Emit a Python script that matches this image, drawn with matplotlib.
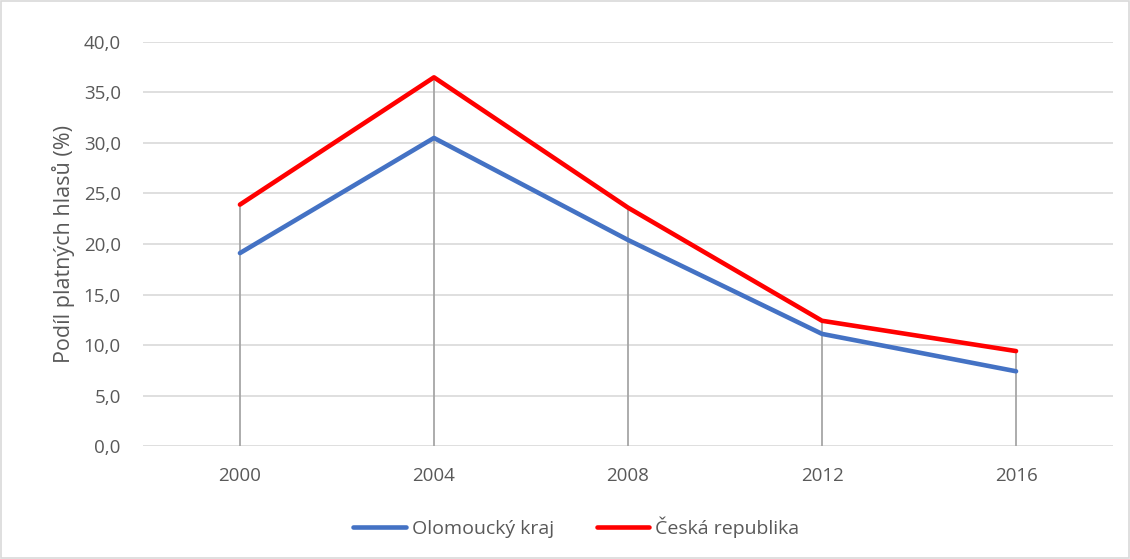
import matplotlib
matplotlib.use("Agg")
from matplotlib import pyplot as plt
from matplotlib.patches import Rectangle
import numpy as np

years = ["2000", "2004", "2008", "2012", "2016"]
olomoucky = [19.1, 30.5, 20.4, 11.1, 7.4]
cr = [23.9, 36.5, 23.6, 12.4, 9.4]
yticks = [0, 5, 10, 15, 20, 25, 30, 35, 40]

plt.rcParams['font.family'] = ['Open Sans', 'DejaVu Sans']
txt = "#595959"

fig = plt.figure(figsize=(11.3, 5.59), dpi=100)
ax = fig.add_axes([0.1265, 0.2021, 0.8585, 0.7228])

x = np.arange(len(years))

# drop lines from axis up to the higher series
tops = np.maximum(olomoucky, cr)
ax.vlines(x, 0, tops, color="#a6a6a6", lw=1.3, zorder=2)

ax.plot(x, olomoucky, color="#4472C4", lw=3.3, solid_capstyle="round", label="Olomoucký kraj", zorder=3)
ax.plot(x, cr, color="#FF0000", lw=3.3, solid_capstyle="round", label="Česká republika", zorder=3)

ax.set_xlim(-0.5, len(years) - 0.5)
ax.set_ylim(0, 40)
ax.set_yticks(yticks)
ax.set_yticklabels([f"{v:.1f}".replace(".", ",") for v in yticks])
ax.set_xticks(x)
ax.set_xticklabels(years)
ax.grid(axis="y", color="#d9d9d9", lw=1.2, zorder=0)
ax.set_axisbelow(True)
for s in ax.spines.values():
    s.set_visible(False)
ax.tick_params(axis="both", length=0, labelsize=13.5, colors=txt)
ax.tick_params(axis="y", pad=16)
ax.tick_params(axis="x", pad=15)
ax.set_ylabel("Podíl platných hlasů (%)", fontsize=15.5, color=txt, labelpad=6)

fig.legend(loc="center", bbox_to_anchor=(0.51, 0.057), ncol=2, frameon=False,
           fontsize=14, labelcolor=txt, handlelength=2.7, handletextpad=0.3,
           columnspacing=2.2)

fig.patches.append(Rectangle((0.001, 0.001), 0.998, 0.997, transform=fig.transFigure,
                             fill=False, edgecolor="#d9d9d9", lw=1.2))

fig.savefig("out.png", dpi=100)
